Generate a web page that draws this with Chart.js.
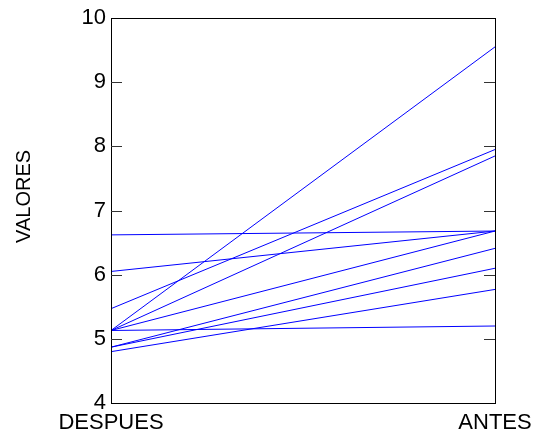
<!DOCTYPE html>
<html>
<head>
<meta charset="utf-8">
<script src="https://cdn.jsdelivr.net/npm/chart.js@4/dist/chart.umd.min.js"></script>
<style>
  html, body { margin: 0; padding: 0; background: #fff; }
  #wrap { width: 533px; height: 434px; }
</style>
</head>
<body>
<div id="wrap"><canvas id="c" width="533" height="434"></canvas></div>
<script>
// Paired measurements per subject: value "after" and value "before"
const categories = ['DESPUES', 'ANTES'];
const despues = [6.62, 6.05, 5.47, 5.13, 5.13, 5.13, 5.13, 4.87, 4.87, 4.80];
const antes   = [6.68, 6.68, 7.95, 9.55, 7.85, 6.68, 5.20, 6.41, 6.10, 5.77];
const yTicks  = [4, 5, 6, 7, 8, 9, 10];
const yTitle  = 'VALORES';

const FONT = "'Liberation Sans', Arial, Helvetica, sans-serif";

const datasets = despues.map((d, i) => ({
  label: 'S' + (i + 1),
  data: [d, antes[i]],
  borderColor: '#0000ff',
  borderWidth: 1,
  pointRadius: 0,
  fill: false,
  tension: 0
}));

// Box around the plot, inward-pointing y ticks on both sides, rotated y title
const frame = {
  id: 'frame',
  afterDraw(chart) {
    const { ctx, chartArea: a, scales } = chart;
    ctx.save();
    ctx.strokeStyle = '#000';
    ctx.lineWidth = 1;
    ctx.strokeRect(Math.round(a.left) + 0.5, Math.round(a.top) + 0.5,
                   Math.round(a.right - a.left), Math.round(a.bottom - a.top));
    ctx.strokeStyle = '#333';
    yTicks.slice(1, -1).forEach(v => {
      const y = Math.round(scales.y.getPixelForValue(v)) + 0.5;
      ctx.beginPath();
      ctx.moveTo(a.left, y); ctx.lineTo(a.left + 11, y);
      ctx.moveTo(a.right, y); ctx.lineTo(a.right - 11, y);
      ctx.stroke();
    });
    ctx.translate(24, scales.y.getPixelForValue(7.22));
    ctx.rotate(-Math.PI / 2);
    ctx.fillStyle = '#000';
    ctx.font = '20px ' + FONT;
    ctx.textAlign = 'center';
    ctx.textBaseline = 'middle';
    ctx.fillText(yTitle, 0, 0);
    ctx.restore();
  }
};

new Chart(document.getElementById('c'), {
  type: 'line',
  data: { labels: categories, datasets },
  options: {
    responsive: false,
    animation: false,
    layout: { padding: { top: 18, right: 38, left: 0, bottom: 0 } },
    plugins: { legend: { display: false }, tooltip: { enabled: false } },
    scales: {
      x: {
        offset: false,
        grid: { display: false, drawTicks: false },
        border: { display: false },
        ticks: {
          autoSkip: false, maxRotation: 0, padding: 7,
          color: '#000', font: { family: FONT, size: 22 }
        },
        afterFit(s) { s.height = 31; s.paddingLeft = 0; s.paddingRight = 0; }
      },
      y: {
        min: 4, max: 10,
        afterBuildTicks(s) { s.ticks = yTicks.map(v => ({ value: v })); },
        grid: { display: false, drawTicks: false },
        border: { display: false },
        ticks: { padding: 5, color: '#000', font: { family: FONT, size: 22 } },
        afterFit(s) { s.width = 111; s.paddingTop = 0; s.paddingBottom = 0; }
      }
    }
  },
  plugins: [frame]
});
</script>
</body>
</html>
